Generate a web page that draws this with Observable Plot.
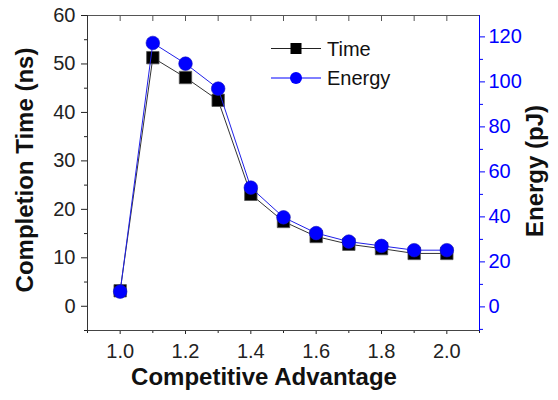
<!DOCTYPE html>
<html>
<head>
<meta charset="utf-8">
<script src="https://cdn.jsdelivr.net/npm/d3@7"></script>
<script src="https://cdn.jsdelivr.net/npm/@observablehq/plot@0.6"></script>
<style>
  html, body { margin: 0; padding: 0; background: #fff; }
  #chart svg { display: block; }
</style>
</head>
<body>
<div id="chart"></div>
<script>
// ---- data ----
const advantage = [1.0, 1.1, 1.2, 1.3, 1.4, 1.5, 1.6, 1.7, 1.8, 1.9, 2.0];
const timeNs    = [3.2, 51.3, 47.2, 42.5, 23.1, 17.5, 14.4, 12.8, 11.9, 10.9, 10.9];
const energyPJ  = [6.8, 117.3, 108.1, 97.0, 53.0, 39.8, 32.8, 29.0, 27.1, 25.2, 25.2];

const xTicks = [1.0, 1.2, 1.4, 1.6, 1.8, 2.0];
const xMinorTicks = [0.9, 1.1, 1.3, 1.5, 1.7, 1.9, 2.1];
const timeTicks = [0, 10, 20, 30, 40, 50, 60];
const timeMinorTicks = [-5, 5, 15, 25, 35, 45, 55];
const energyTicks = [0, 20, 40, 60, 80, 100, 120];
const energyMinorTicks = [-10, 10, 30, 50, 70, 90, 110];

const xLabel = "Competitive Advantage";
const yLabel = "Completion Time (ns)";
const y2Label = "Energy (pJ)";
const seriesNames = ["Time", "Energy"];

const xDomain = [0.9, 2.1];
const timeDomain = [-5, 60];
const energyDomain = [-10.5, 129.5];

// energy -> time-axis units (shared y scale)
const eToT = d3.scaleLinear().domain(energyDomain).range(timeDomain);

const rows = advantage.map((a, i) => ({a, t: timeNs[i], e: eToT(energyPJ[i])}));

const BLUE = "#0000ff";
const DARK = "#222";
const FONT = "'Liberation Sans', Arial, Helvetica, sans-serif";

const chart = Plot.plot({
  width: 558,
  height: 400,
  marginLeft: 87,
  marginRight: 79,
  marginTop: 15,
  marginBottom: 70,
  style: {fontFamily: FONT, fontSize: "20px", color: DARK, background: "#fff"},
  x: {domain: xDomain},
  y: {domain: timeDomain},
  marks: [
    // bottom axis
    Plot.axisX({ticks: xTicks, tickSize: 4, tickPadding: 9, tickFormat: d3.format(".1f"), label: null, fontSize: 20, color: DARK}),
    Plot.axisX({ticks: xMinorTicks, tickSize: 3, tickFormat: () => "", label: null, color: DARK}),
    // top inward ticks
    Plot.axisX({anchor: "top", ticks: xTicks.concat(xMinorTicks), tickSize: -5, tickFormat: () => "", label: null, color: "#555"}),
    // left axis
    Plot.axisY({ticks: timeTicks, tickSize: 6, tickPadding: 6, tickFormat: d3.format("d"), label: null, fontSize: 20, color: DARK}),
    Plot.axisY({ticks: timeMinorTicks, tickSize: 3, tickFormat: () => "", label: null, color: DARK}),
    // right axis (energy)
    Plot.axisY({anchor: "right", ticks: energyTicks.map(eToT), tickSize: 5, tickPadding: 4,
      tickFormat: t => String(Math.round(eToT.invert(t))), label: null, fontSize: 20, color: BLUE}),
    Plot.axisY({anchor: "right", ticks: energyMinorTicks.map(eToT), tickSize: 3, tickFormat: () => "", label: null, color: BLUE}),
    // frame lines
    Plot.frame({anchor: "top", stroke: "#555"}),
    Plot.frame({anchor: "bottom", stroke: "#444"}),
    Plot.frame({anchor: "left", stroke: "#333"}),
    Plot.frame({anchor: "right", stroke: BLUE}),
    // series
    Plot.line(rows, {x: "a", y: "t", stroke: "#333", strokeWidth: 1}),
    Plot.dot(rows, {x: "a", y: "t", symbol: "square", r: 7, fill: "#000", stroke: "#555", strokeWidth: 0.8}),
    Plot.line(rows, {x: "a", y: "e", stroke: "#2020e8", strokeWidth: 1}),
    Plot.dot(rows, {x: "a", y: "e", symbol: "circle", r: 6.8, fill: BLUE, stroke: "#1010c0", strokeWidth: 0.6}),
    // axis titles
    Plot.text([xLabel], {text: d => d, frameAnchor: "bottom", textAnchor: "middle", dx: -19.5, dy: 54.5, fontWeight: "bold", fontSize: 24, fill: "#111"}),
    Plot.text([yLabel], {text: d => d, frameAnchor: "left", textAnchor: "middle", dx: -62, dy: -3, rotate: -90, fontWeight: "bold", fontSize: 24, fill: "#111"}),
    Plot.text([y2Label], {text: d => d, frameAnchor: "right", textAnchor: "middle", dx: 56, dy: -2, rotate: -90, fontWeight: "bold", fontSize: 24, fill: "#111"})
  ]
});

document.getElementById("chart").appendChild(chart);

// ---- legend ----
const svg = d3.select(chart);
const legend = svg.append("g").attr("font-family", FONT).attr("font-size", 20).attr("text-anchor", "start");
const legendRows = [
  {name: seriesNames[0], y: 48.5, line: "#222", fill: "#000", sym: "square"},
  {name: seriesNames[1], y: 78, line: BLUE, fill: BLUE, sym: "circle"}
];
legendRows.forEach(r => {
  legend.append("line").attr("x1", 271).attr("x2", 321).attr("y1", r.y).attr("y2", r.y)
    .attr("stroke", r.line).attr("stroke-width", 1);
  if (r.sym === "square") {
    legend.append("rect").attr("x", 290.5).attr("y", r.y - 5.5).attr("width", 11).attr("height", 11).attr("fill", r.fill);
  } else {
    legend.append("circle").attr("cx", 296).attr("cy", r.y).attr("r", 6).attr("fill", r.fill);
  }
  legend.append("text").attr("x", 327).attr("y", r.y).attr("dy", "0.35em").attr("text-anchor", "start")
    .attr("fill", "#111").text(r.name);
});
</script>
</body>
</html>
